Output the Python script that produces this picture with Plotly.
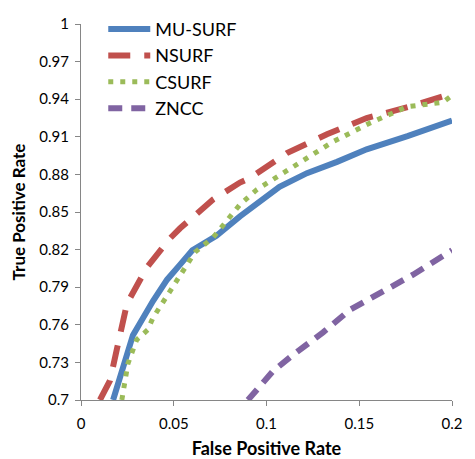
import plotly.graph_objects as go

mu_x = [0.0173, 0.028, 0.0388, 0.0464, 0.0534, 0.060, 0.073, 0.0857, 0.107, 0.1218, 0.138, 0.154, 0.176, 0.1935, 0.2]
mu_y = [0.700, 0.7517, 0.779, 0.796, 0.808, 0.8195, 0.831, 0.8465, 0.870, 0.881, 0.890, 0.900, 0.9105, 0.920, 0.923]

ns_x = [0.0102, 0.0156, 0.0194, 0.0248, 0.0356, 0.048, 0.0534, 0.0712, 0.0857, 0.091, 0.111, 0.1326, 0.154, 0.177, 0.2]
ns_y = [0.700, 0.7154, 0.741, 0.777, 0.806, 0.829, 0.837, 0.860, 0.8735, 0.877, 0.897, 0.912, 0.925, 0.934, 0.9445]

cs_x = [0.022, 0.0253, 0.030, 0.036, 0.0388, 0.0464, 0.0534, 0.0615, 0.0712, 0.0857, 0.0949, 0.1127, 0.1358, 0.1558, 0.1757, 0.195, 0.2]
cs_y = [0.700, 0.729, 0.748, 0.756, 0.7656, 0.783, 0.800, 0.818, 0.8296, 0.856, 0.868, 0.885, 0.906, 0.921, 0.934, 0.9375, 0.943]

zn_x = [0.090, 0.1035, 0.1143, 0.1305, 0.145, 0.161, 0.179, 0.2]
zn_y = [0.700, 0.723, 0.736, 0.754, 0.772, 0.785, 0.800, 0.8195]

x_ticks = [0, 0.05, 0.1, 0.15, 0.2]
x_labels = ["0", "0.05", "0.1", "0.15", "0.2"]
y_ticks = [0.7, 0.73, 0.76, 0.79, 0.82, 0.85, 0.88, 0.91, 0.94, 0.97, 1]
y_labels = ["0.7", "0.73", "0.76", "0.79", "0.82", "0.85", "0.88", "0.91", "0.94", "0.97", "1"]

FONT = "Lato, Carlito, Calibri, sans-serif"

fig = go.Figure()
fig.add_trace(go.Scatter(x=mu_x, y=mu_y, mode="lines", name="MU-SURF",
                         line=dict(color="#4F81BD", width=6)))
fig.add_trace(go.Scatter(x=ns_x, y=ns_y, mode="lines", name="NSURF",
                         line=dict(color="#C0504D", width=6, dash="22px,14px")))
fig.add_trace(go.Scatter(x=cs_x, y=cs_y, mode="lines", name="CSURF",
                         line=dict(color="#9BBB59", width=5, dash="5px,7px")))
fig.add_trace(go.Scatter(x=zn_x, y=zn_y, mode="lines", name="ZNCC",
                         line=dict(color="#8064A2", width=6, dash="14px,9px")))

# page body has a default 8px margin; compensate so the plot area lands at
# x 81..452, y 11..400 in the 475x459 window
fig.update_layout(
    width=467, height=451,
    margin=dict(l=73, r=23, t=3, b=59),
    paper_bgcolor="white", plot_bgcolor="white",
    font=dict(family=FONT, size=15, color="#000"),
    showlegend=True,
    legend=dict(x=0.06, y=1.035, xanchor="left", yanchor="top",
                font=dict(family=FONT, size=18, color="#000"),
                bgcolor="rgba(255,255,255,0)", itemwidth=42,
                tracegroupgap=0),
    xaxis=dict(range=[0, 0.2], tickvals=x_ticks, ticktext=x_labels,
               automargin=False,
               showgrid=False, zeroline=False, showline=True,
               linecolor="#868686", linewidth=1, ticks="outside",
               ticklen=5, tickcolor="#868686", tickfont=dict(size=15),
               ticklabelstandoff=5,
               title=dict(text="<b>False Positive Rate</b>", font=dict(size=18), standoff=14)),
    yaxis=dict(range=[0.7, 1], tickvals=y_ticks, ticktext=y_labels,
               automargin=False,
               showgrid=False, zeroline=False, showline=True,
               linecolor="#868686", linewidth=1, ticks="outside",
               ticklen=5, tickcolor="#868686", tickfont=dict(size=15),
               ticklabelstandoff=3,
               title=dict(text="<b>True Positive Rate</b>", font=dict(size=17), standoff=14)),
)

fig.write_html("out.html")
